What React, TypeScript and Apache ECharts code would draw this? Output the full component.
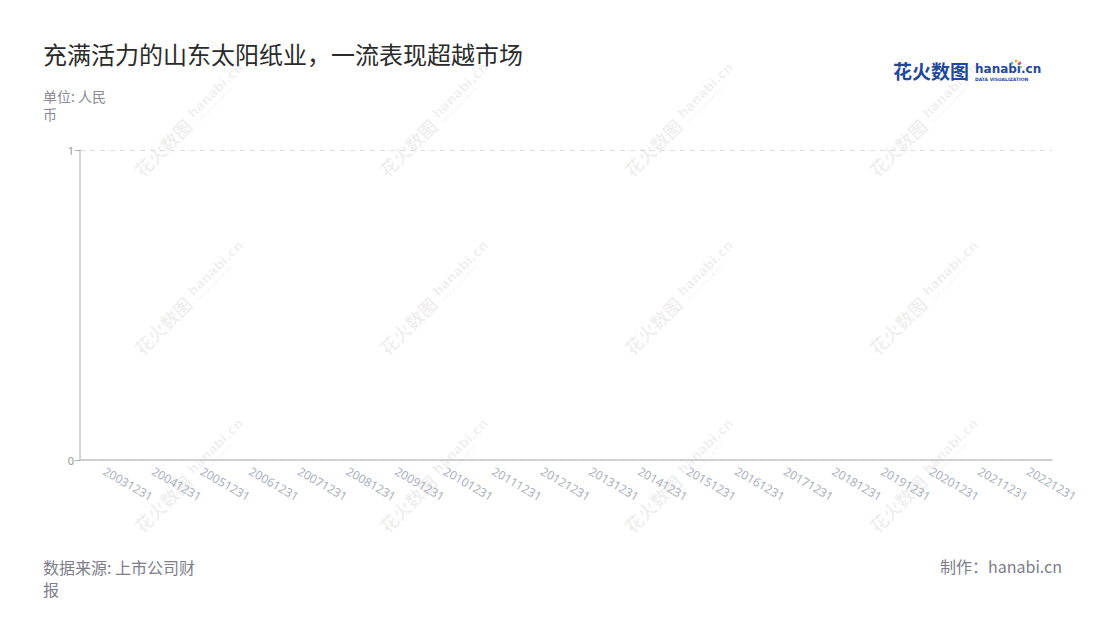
import {useEffect, useRef} from 'react';
import * as echarts from 'echarts';

const categories = [
    '20031231', '20041231', '20051231', '20061231', '20071231',
    '20081231', '20091231', '20101231', '20111231', '20121231',
    '20131231', '20141231', '20151231', '20161231', '20171231',
    '20181231', '20191231', '20201231', '20211231', '20221231',
];
// the source chart has no values for any year
const values: (number | null)[] = categories.map(() => null);

const titleText = '充满活力的山东太阳纸业，一流表现超越市场';
const unitText = '单位: 人民\n币';
const sourceText = '数据来源: 上市公司财\n报';
const creditText = '制作：hanabi.cn';

// watermark anchor points (centre of each tile)
const markX = [188, 433, 678, 923];
const markY = [122, 300, 478];

const CJK = '"Noto Sans CJK SC", "Noto Sans", sans-serif';

const watermark = (cx: number, cy: number) => ({
    type: 'group',
    x: cx,
    y: cy,
    rotation: Math.PI / 4,
    silent: true,
    z: -10,
    children: [
        {
            type: 'text',
            x: -72,
            y: 0,
            style: {text: '花火数图', font: `bold 18px ${CJK}`, fill: 'rgba(0,0,0,0.07)', verticalAlign: 'middle'},
        },
        {
            type: 'text',
            x: 6,
            y: -3,
            style: {text: 'hanabi.cn', font: 'bold 13px "DejaVu Sans", sans-serif', fill: 'rgba(0,0,0,0.07)', verticalAlign: 'middle'},
        },
        {
            type: 'text',
            x: 7,
            y: 7,
            style: {text: 'DATA VISUALIZATION', font: 'bold 4px "DejaVu Sans", sans-serif', fill: 'rgba(0,0,0,0.07)', verticalAlign: 'middle'},
        },
    ],
});

const App = () => {
    const chartRef = useRef<HTMLDivElement>(null);

    useEffect(() => {
        if (!chartRef.current) return;
        const chart = echarts.init(chartRef.current, undefined, {renderer: 'svg'});

        const marks: any[] = [];
        markY.forEach((y) => markX.forEach((x) => marks.push(watermark(x, y))));

        chart.setOption({
            animation: false,
            backgroundColor: '#fff',
            textStyle: {fontFamily: CJK},
            title: [
                {
                    text: titleText,
                    left: 38,
                    top: 36,
                    textStyle: {fontSize: 24, fontWeight: 'normal', color: '#2b2b2b', fontFamily: CJK},
                },
                {
                    text: unitText,
                    left: 38,
                    top: 82,
                    textStyle: {fontSize: 14, fontWeight: 'normal', color: '#8a8a99', lineHeight: 18, fontFamily: CJK},
                },
                {
                    text: sourceText,
                    left: 38,
                    top: 551,
                    textStyle: {fontSize: 16, fontWeight: 'normal', color: '#7d7d8c', lineHeight: 22, fontFamily: CJK},
                },
                {
                    text: creditText,
                    right: 33,
                    top: 553,
                    textStyle: {fontSize: 16, fontWeight: 'normal', color: '#7d7d8c', fontFamily: CJK},
                },
            ],
            grid: {left: 80, right: 48, top: 150, bottom: 160, containLabel: false},
            xAxis: {
                type: 'category',
                data: categories,
                axisLine: {lineStyle: {color: '#c4c4c4', width: 1.5}},
                axisTick: {alignWithLabel: true, length: 5, lineStyle: {color: '#b0b0b0'}},
                axisLabel: {
                    rotate: -30,
                    interval: 0,
                    margin: 10,
                    color: '#aab0c0',
                    fontSize: 12,
                    fontFamily: '"Noto Sans", sans-serif',
                },
            },
            yAxis: {
                type: 'value',
                min: 0,
                max: 1,
                interval: 1,
                axisLine: {show: true, lineStyle: {color: '#c4c4c4', width: 1.5}},
                axisTick: {show: true, length: 5, lineStyle: {color: '#b0b0b0'}},
                axisLabel: {color: '#999', fontSize: 11, margin: 6, fontFamily: '"Noto Sans", sans-serif'},
                splitLine: {show: true, lineStyle: {color: '#dcdcdc', type: [5, 5]}},
            },
            series: [
                {
                    type: 'bar',
                    data: values,
                },
            ],
            graphic: [
                ...marks,
                {
                    type: 'group',
                    x: 893,
                    y: 61,
                    silent: true,
                    children: [
                        {
                            type: 'text',
                            x: 0,
                            y: 0,
                            style: {text: '花火数图', font: `bold 19px ${CJK}`, fill: '#1f4a9c'},
                        },
                        {
                            type: 'text',
                            x: 82,
                            y: 2,
                            style: {text: 'hanabi.cn', font: 'bold 12px "DejaVu Sans", sans-serif', fill: '#1f4a9c'},
                        },
                        {
                            type: 'text',
                            x: 82,
                            y: 16,
                            style: {text: 'DATA VISUALIZATION', font: 'bold 4.5px "DejaVu Sans", sans-serif', fill: '#1f4a9c'},
                        },
                        {type: 'circle', shape: {cx: 123, cy: 0, r: 1.4}, style: {fill: '#f5a623'}},
                        {type: 'circle', shape: {cx: 127, cy: 2, r: 1.4}, style: {fill: '#e94b8a'}},
                        {type: 'circle', shape: {cx: 119, cy: 2, r: 1.4}, style: {fill: '#3cc1e8'}},
                        {type: 'circle', shape: {cx: 128, cy: 6, r: 1.1}, style: {fill: '#8fd14f'}},
                    ],
                },
            ],
        });

        return () => {
            chart.dispose();
        };
    }, []);

    return (
        <div
            ref={chartRef}
            style={{position: 'fixed', left: 0, top: 0, width: 1100, height: 620}}
        />
    );
};

export default App;
